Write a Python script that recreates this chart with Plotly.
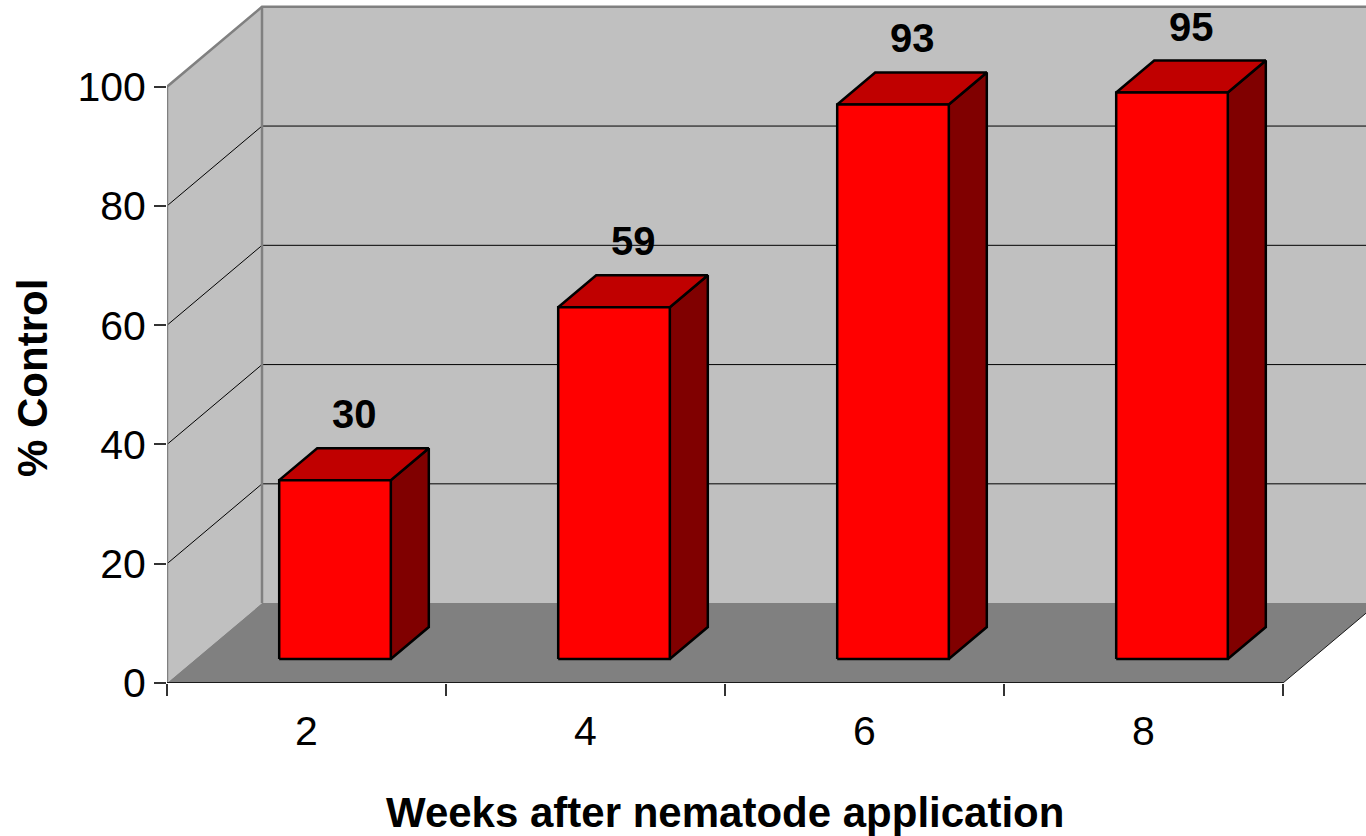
import plotly.graph_objects as go

weeks = ["2", "4", "6", "8"]
control = [30, 59, 93, 95]
y_ticks = [0, 20, 40, 60, 80, 100]
grid_levels = [20, 40, 60, 80]

# oblique depth of the chart box, in axis units
DX, DY = 0.3405, 13.4
BAR_W, BAR_FRONT, BAR_BACK = 0.4, 0.3, 0.7
X_MAX, Y_MAX = 4.2975, 114.54

FONT = "Liberation Sans, Arial, sans-serif"

fig = go.Figure()


def poly(xs, ys, fill, line_color=None, width=0):
    fig.add_trace(go.Scatter(
        x=xs + [xs[0]], y=ys + [ys[0]], mode="lines", fill="toself",
        fillcolor=fill, line=dict(color=line_color or fill, width=width),
        hoverinfo="skip", showlegend=False))


def seg(xs, ys, color, width):
    fig.add_trace(go.Scatter(
        x=xs, y=ys, mode="lines", line=dict(color=color, width=width),
        hoverinfo="skip", showlegend=False))


n = len(weeks)

# walls and floor
poly([DX, X_MAX + 1, X_MAX + 1, DX], [DY, DY, 100 + DY, 100 + DY], "#c0c0c0")
poly([0, 0, DX, DX], [0, 100, 100 + DY, DY], "#c0c0c0")
poly([0, n, n + DX, X_MAX + 1, X_MAX + 1, DX], [0, 0, DY, DY, DY, DY], "#808080")

for v in grid_levels:
    seg([0, DX, X_MAX + 1], [v, v + DY, v + DY], "black", 1)

seg([0, 0, DX, X_MAX + 1], [0, 100, 100 + DY, 100 + DY], "#808080", 2.5)
seg([DX, DX], [DY, 100 + DY], "#808080", 2.5)
seg([0, n], [0, 0], "#1a1a1a", 2)
seg([n, n + DX], [0, DY], "#1a1a1a", 1)

# bars
ddx = (BAR_BACK - BAR_FRONT) * DX
ddy = (BAR_BACK - BAR_FRONT) * DY
for i, v in enumerate(control):
    x0 = i + (1 - BAR_W) / 2 + BAR_FRONT * DX
    x1 = x0 + BAR_W
    y0 = BAR_FRONT * DY
    y1 = v + y0
    poly([x1, x1 + ddx, x1 + ddx, x1], [y0, y0 + ddy, y1 + ddy, y1], "#800000", "black", 2.5)
    poly([x0, x1, x1 + ddx, x0 + ddx], [y1, y1, y1 + ddy, y1 + ddy], "#c00000", "black", 2.5)
    poly([x0, x1, x1, x0], [y0, y0, y1, y1], "#ff0000", "black", 2.5)
    fig.add_annotation(x=i + 0.5 + 0.5 * DX, y=v, yshift=90, text=str(v),
                       showarrow=False,
                       font=dict(family=FONT, size=40, color="black", weight="bold"))

fig.add_annotation(xref="paper", yref="paper", x=(725 - 167) / 1199, y=0,
                   yshift=-129, xanchor="center", yanchor="middle",
                   text="Weeks after nematode application", showarrow=False,
                   font=dict(family=FONT, size=42, color="black", weight="bold"))
fig.add_annotation(xref="paper", yref="paper", x=0, xshift=-135, y=(683 - 378) / 683,
                   xanchor="center", yanchor="middle",
                   textangle=-90, text="% Control", showarrow=False,
                   font=dict(family=FONT, size=42, color="black", weight="bold"))

fig.update_layout(
    width=1366, height=836,
    margin=dict(l=167, r=0, t=0, b=153),
    paper_bgcolor="white", plot_bgcolor="white",
    xaxis=dict(range=[0, X_MAX], tickvals=[i + 0.5 for i in range(n)], ticktext=weeks,
               ticks="", showgrid=False, zeroline=False, showline=False,
               ticklabelstandoff=20,
               tickfont=dict(family=FONT, size=41, color="black"),
               minor=dict(tickvals=list(range(n + 1)), ticks="outside", ticklen=12,
                          tickcolor="#333333", tickwidth=1.5, showgrid=False)),
    yaxis=dict(range=[0, Y_MAX], tickvals=y_ticks, ticks="outside", ticklen=12,
               tickcolor="#333333", tickwidth=1.5, showgrid=False, zeroline=False,
               showline=False, tickfont=dict(family=FONT, size=41, color="black")),
)

fig.write_html("out.html", config={"displayModeBar": False},
               post_script="document.body.style.margin='0';")
